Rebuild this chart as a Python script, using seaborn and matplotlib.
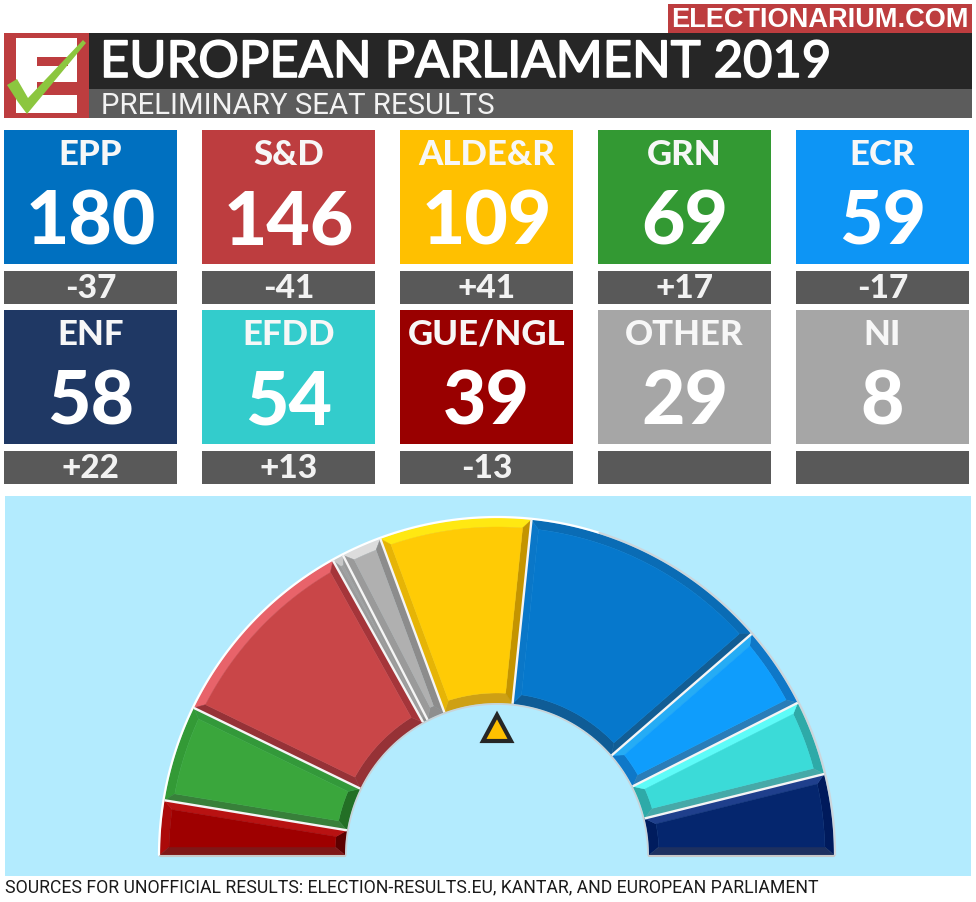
import numpy as np
import seaborn as sns
import matplotlib.pyplot as plt
import matplotlib.patheffects as pe
from matplotlib.patches import Rectangle, Polygon

sns.set_theme(style='white')
plt.rcParams['font.family'] = ['Roboto', 'DejaVu Sans']

# tiles
parties = ['EPP', 'S&D', 'ALDE&R', 'GRN', 'ECR', 'ENF', 'EFDD', 'GUE/NGL', 'OTHER', 'NI']
seats = [180, 146, 109, 69, 59, 58, 54, 39, 29, 8]
changes = ['-37', '-41', '+41', '+17', '-17', '+22', '+13', '-13', '', '']
tile_colors = ['#0070c0', '#bd3d3f', '#ffc000', '#339933', '#0d95f5',
               '#1f3864', '#33cccc', '#990000', '#a6a6a6', '#a6a6a6']

# hemicycle, left to right
order = ['GUE/NGL', 'GRN', 'S&D', 'NI', 'OTHER', 'ALDE&R', 'EPP', 'ECR', 'EFDD', 'ENF']
face = ['#9e0000', '#3aa63c', '#c94648', '#a0a0a0', '#b0b0b0',
        '#ffcb05', '#0678cc', '#0f9dfc', '#3bdbd8', '#05266e']
outer_edge = ['#ab0a0a', '#339a36', '#e8636a', '#c8c8c8', '#dcdcdc',
              '#ffe812', '#0a6cb5', '#0f78c8', '#2eaaa8', '#001a5c']
inner_edge = ['#5c0000', '#236f25', '#963236', '#8e8e8e', '#8e8e8e',
              '#cea014', '#0f5c96', '#0f78c8', '#2eaaa8', '#001c5e']
left_edge = ['#7f1717', '#38803a', '#963237', '#9a9a9a', '#9a9a9a',
             '#e6b406', '#0a77c8', '#25acf5', '#5dfbf8', '#1f3f8c']
right_edge = ['#b81212', '#33993a', '#a5353a', '#9a9a9a', '#8c8c8c',
              '#c49400', '#125d94', '#2a7db8', '#46a9a8', '#1d3060']

fig = plt.figure(figsize=(9.76, 9.02), dpi=100, facecolor='white')
ax = fig.add_axes([0, 0, 1, 1])
ax.set_xlim(0, 976)
ax.set_ylim(902, 0)
ax.axis('off')


def box(x, y, w, h, color, z=1):
    ax.add_patch(Rectangle((x, y), w, h, facecolor=color, edgecolor='none', zorder=z))


# header
box(668, 4, 304, 29, '#bd3d3f')
ax.text(820, 20, 'ELECTIONARIUM.COM', color='white', fontsize=19.5, fontweight='bold',
        ha='center', va='center', family='Liberation Sans')
box(4, 33, 85, 85, '#bd3d3f')
box(89, 33, 883, 56, '#262626')
box(89, 89, 883, 29, '#5c5c5c')
# E of the logo
box(16, 38, 61, 75, 'white', 2)
box(37, 57, 31, 9, '#bd3d3f', 2)
box(37, 82, 40, 13, '#bd3d3f', 2)
ax.add_patch(Polygon([(7, 85), (17, 79), (28, 98), (83, 40), (86, 43), (27, 114), (18, 102)],
                     facecolor='#8cc63f', edgecolor='none', zorder=3))
title = ax.text(100, 63, 'EUROPEAN PARLIAMENT 2019', color='white', fontsize=36.5,
                ha='left', va='center', family='Lato')
title.set_path_effects([pe.withStroke(linewidth=1.2, foreground='white')])
ax.text(101, 106, 'PRELIMINARY SEAT RESULTS', color='#f2f2f2', fontsize=21.2, ha='left',
        va='center', family='Roboto')

# party tiles
tile_x = [4, 202, 400, 598, 796]
tile_y = [130, 310]
for i in range(len(parties)):
    x = tile_x[i % 5]
    y = tile_y[i // 5]
    box(x, y, 173, 134, tile_colors[i])
    box(x, y + 141, 173, 33, '#595959')
    ax.text(x + 86.5, y + 25, parties[i], color='#f7f7f7', fontsize=25, fontweight='black',
            ha='center', va='center', family='Lato')
    ax.text(x + 86.5, y + 93, str(seats[i]), color='white', fontsize=54, fontweight='black',
            ha='center', va='center', family='Lato')
    ax.text(x + 86.5, y + 158, changes[i], color='#f2f2f2', fontsize=24, fontweight='black',
            ha='center', va='center', family='Lato')

# hemicycle
box(5, 496, 966, 380, '#b3ebfe')
cx, cy = 497, 855
r_in, r_out = 152, 337
bevel_out = 9
bevel_in = 10
bevel_side = 8
order_seats = [seats[parties.index(p)] for p in order]
edges = 180 - np.cumsum([0] + order_seats) / sum(order_seats) * 180


def arc(r, a0, a1, n=60):
    t = np.radians(np.linspace(a0, a1, n))
    return np.column_stack([cx + r * np.cos(t), cy - r * np.sin(t)])


def shift(r, d):
    return np.degrees(np.arcsin(min(d / r, 1)))


for i in range(len(order)):
    a0, a1 = edges[i], edges[i + 1]
    # inner corners of the bevel, kept at a fixed distance from the side edges
    d = min(bevel_side, (a0 - a1) / 2 * np.pi / 180 * r_in * 1.6)
    o0, o1 = a0 - shift(r_out - bevel_out, d), a1 + shift(r_out - bevel_out, d)
    n0, n1 = a0 - shift(r_in + bevel_in, d), a1 + shift(r_in + bevel_in, d)
    outer = arc(r_out, a0, a1)
    inner = arc(r_in, a0, a1)
    f_outer = arc(r_out - bevel_out, o0, o1)
    f_inner = arc(r_in + bevel_in, n0, n1)
    parts = [
        (np.vstack([outer, f_outer[::-1]]), outer_edge[i]),
        (np.vstack([inner, f_inner[::-1]]), inner_edge[i]),
        (np.vstack([inner[:1], outer[:1], f_outer[:1], f_inner[:1]]), left_edge[i]),
        (np.vstack([inner[-1:], outer[-1:], f_outer[-1:], f_inner[-1:]]), right_edge[i]),
        (np.vstack([f_outer, f_inner[::-1]]), face[i]),
    ]
    for pts, col in parts:
        ax.add_patch(Polygon(pts, facecolor=col, edgecolor=col, lw=0.3, zorder=3))

# rim and separators
rim = arc(r_out + 1, 180, 0, 200)
ax.plot(rim[:120, 0], rim[:120, 1], color='white', lw=1.6, zorder=4)
ax.plot(rim[119:, 0], rim[119:, 1], color='#ccd6dc', lw=1.6, zorder=4)
low = arc(r_in - 1, 180, 0, 200)
ax.plot(low[:, 0], low[:, 1], color='#c9d3d8', lw=1.2, zorder=4)
ax.plot([cx - r_out, cx - r_in], [cy + 1, cy + 1], color='#c8c8c8', lw=1.5, zorder=4)
ax.plot([cx + r_in, cx + r_out], [cy + 1, cy + 1], color='#c8c8c8', lw=1.5, zorder=4)
for a in edges[1:-1]:
    t = np.radians(a)
    ax.plot([cx + r_in * np.cos(t), cx + r_out * np.cos(t)],
            [cy - r_in * np.sin(t), cy - r_out * np.sin(t)],
            color='#f5f5f5', lw=1.7, zorder=5, solid_capstyle='butt')

# majority marker
ax.add_patch(Polygon([(497, 715), (511, 741), (483, 741)], closed=True, facecolor='#ffc000',
                     edgecolor='#262626', lw=3, joinstyle='miter', zorder=6))

ax.text(5, 887, 'SOURCES FOR UNOFFICIAL RESULTS: ELECTION-RESULTS.EU, KANTAR, AND EUROPEAN PARLIAMENT',
        color='#1a1a1a', fontsize=12.7, ha='left', va='center', family='Roboto')

fig.savefig('out.png', dpi=100, facecolor='white')
